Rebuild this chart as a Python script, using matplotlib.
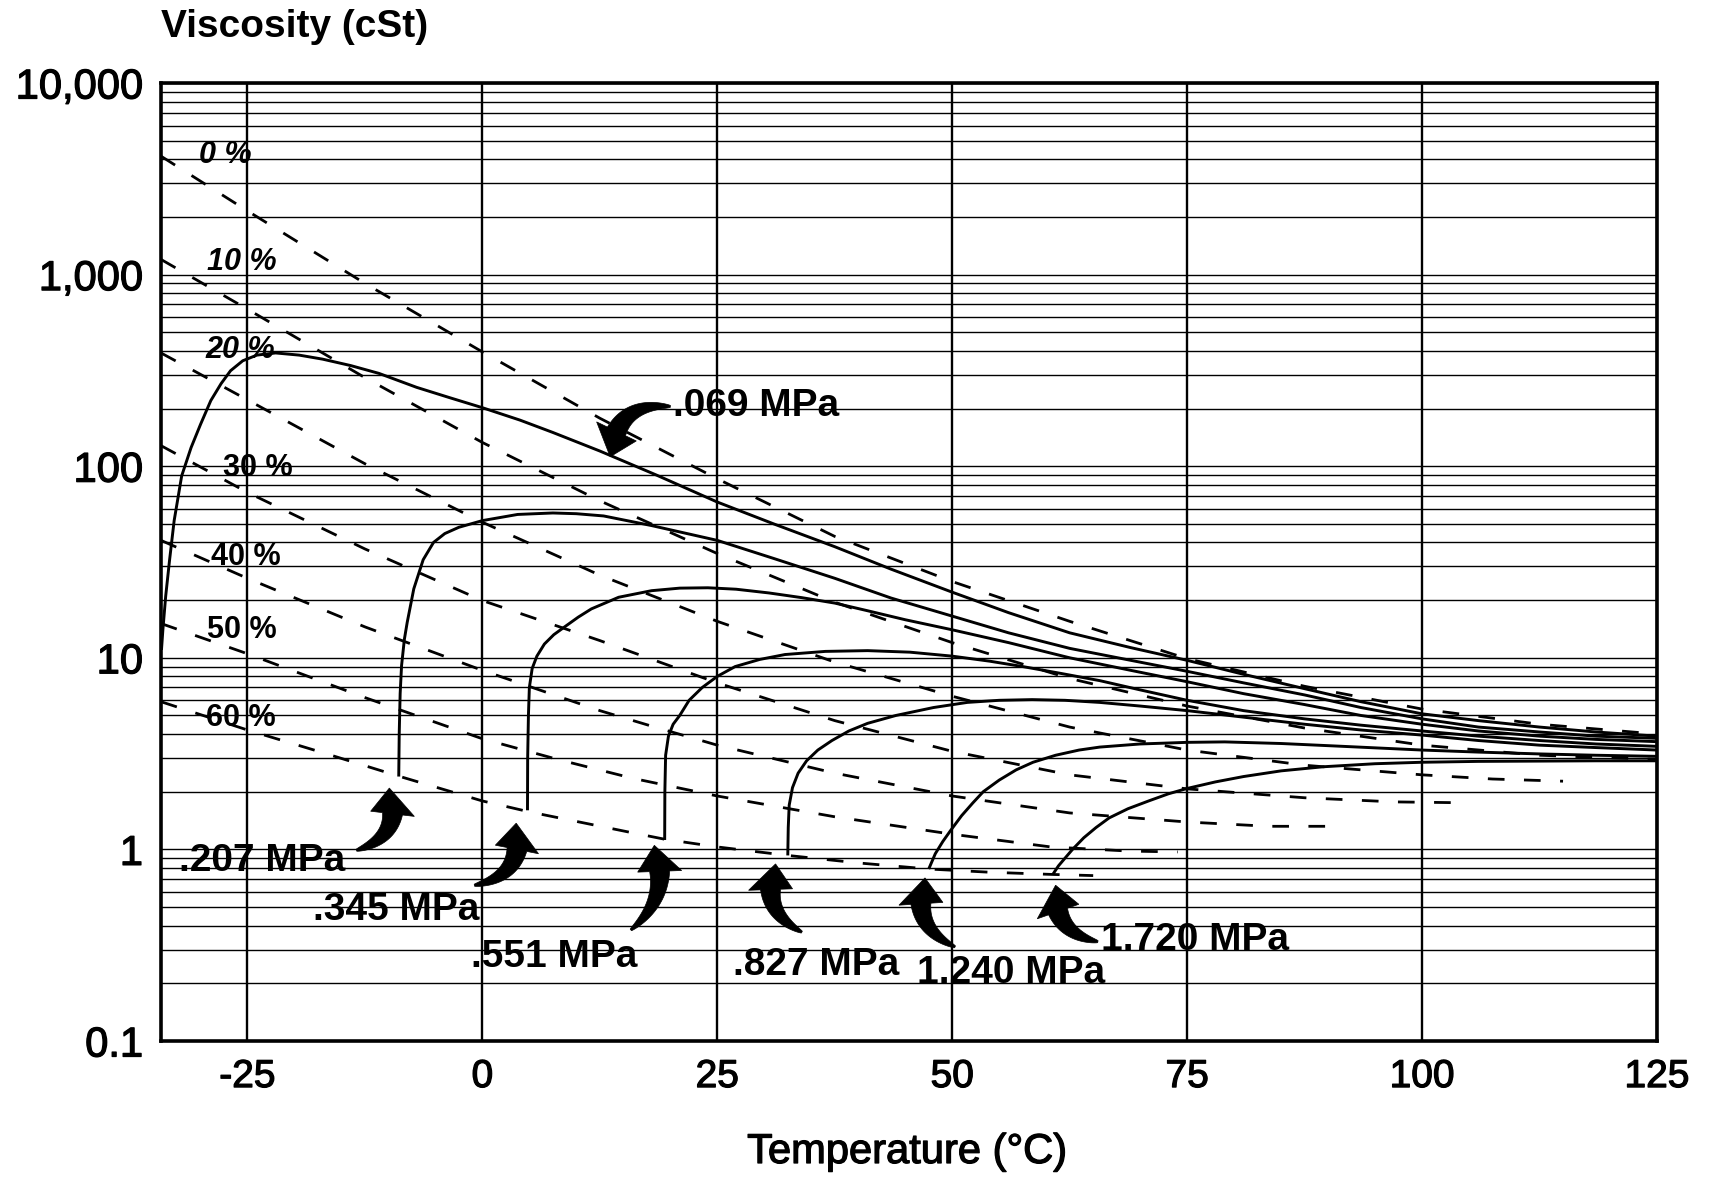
import numpy as np
import matplotlib.pyplot as plt
import matplotlib.patheffects as pe
from matplotlib.patches import Polygon
from matplotlib.transforms import IdentityTransform
from matplotlib.ticker import LogLocator, FuncFormatter, NullFormatter

plt.rcParams['font.family'] = ['Liberation Sans', 'DejaVu Sans']
plt.rcParams['axes.unicode_minus'] = False

# constant-percentage lines (dashed), temperature in deg C, viscosity in cSt
p0_t = [-34.2, -25, -12.5, 0, 12.5, 25, 37.5, 50, 62.5, 75, 87.5, 100, 112.5, 125]
p0_v = [4150, 2150, 900, 395, 178, 86, 43, 25, 15.5, 9.9, 7.1, 5.4, 4.5, 4.0]
p10_t = [-34.2, -25, -12.5, 0, 12.5, 25, 37.5, 50, 62.5, 75, 87.5, 100, 112.5, 125]
p10_v = [1200, 660, 290, 133, 66, 35, 19.5, 12, 7.8, 5.6, 4.3, 3.5, 3.1, 2.95]
p20_t = [-34.2, -25, -12.5, 0, 12.5, 25, 37.5, 50, 62.5, 75, 87.5, 100, 107.5, 115]
p20_v = [390, 222, 103, 51, 27, 15.5, 9.5, 6.3, 4.35, 3.3, 2.75, 2.45, 2.33, 2.27]
p30_t = [-34.2, -25, -12.5, 0, 12.5, 25, 37.5, 50, 62.5, 75, 87.5, 97, 105]
p30_v = [128, 73, 37, 19.9, 12.3, 7.4, 4.7, 3.25, 2.45, 2.07, 1.86, 1.77, 1.75]
p40_t = [-34.2, -25, -12.5, 0, 12.5, 18, 25, 37.5, 50, 62.5, 75, 83.7, 90]
p40_v = [41, 26, 14.5, 8.6, 5.3, 4.4, 3.5, 2.5, 1.9, 1.55, 1.39, 1.32, 1.32]
p50_t = [-34.2, -25, -12.5, 0, 8, 16, 25, 37.5, 50, 60.5, 68.8, 74]
p50_v = [15.1, 10.5, 6.2, 3.78, 2.95, 2.35, 1.9, 1.48, 1.2, 1.03, 0.98, 0.97]
p60_t = [-34.2, -25, -17, -9, 0, 5, 10, 16, 19.4, 25, 32.5, 40, 47.5, 54, 60.7, 65]
p60_v = [5.9, 4.2, 3.2, 2.42, 1.79, 1.57, 1.4, 1.22, 1.13, 1.03, 0.93, 0.85, 0.79, 0.76, 0.74, 0.73]
pct_names = ['0 %', '10 %', '20 %', '30 %', '40 %', '50 %', '60 %']

# pressure curves (solid)
m069_t = [-34.15, -34.0, -33.7, -33.3, -32.8, -32.0, -31.0, -30.0, -28.9, -27.8, -26.8, -25.5,
          -24.0, -22.0, -19.5, -17.0, -14.0, -11.0, -7.0, -3.5, 0, 4, 7.5, 12.5, 18.5, 25, 31,
          37.5, 43.5, 50, 56, 62.5, 69, 75, 81, 87.5, 93.5, 100, 106, 112.5, 118.5, 125]
m069_v = [11, 14, 21, 32, 52, 89, 125, 165, 220, 270, 315, 355,
          380, 390, 380, 362, 335, 305, 258, 228, 202, 174, 150, 120, 90, 65, 50,
          38, 29, 22, 17.2, 13.5, 11.3, 9.7, 8.2, 6.9, 5.9, 5.1, 4.7, 4.35, 4.1, 3.9]
m207_t = [-8.9, -8.85, -8.75, -8.6, -8.3, -8.0, -7.3, -6.3, -5.2, -4.0, -2.5, 0, 3.75, 7.5,
          10, 12.9, 18, 25, 31, 37.5, 43.5, 50, 56, 62.5, 69, 75, 81, 87.5, 93.5, 100, 106,
          112.5, 118.5, 125]
m207_v = [2.4, 4.0, 6.5, 9.1, 12.5, 15.3, 22.9, 32.5, 40, 44.5, 48, 52, 56, 57,
          56.5, 55, 49, 41, 33, 26, 20.5, 16.5, 13.5, 11.2, 9.7, 8.5, 7.4, 6.4, 5.5, 4.8, 4.35,
          4.1, 3.9, 3.8]
m345_t = [4.8, 4.82, 4.9, 5.0, 5.3, 5.8, 6.6, 7.6, 8.75, 10.2, 11.6, 14.5, 18, 21, 24, 27,
          30.5, 34, 37.5, 41, 45, 50, 56, 62.5, 69, 75, 81, 87.5, 93.5, 100, 106, 112.5,
          118.5, 125]
m345_v = [1.6, 3.0, 5.0, 7.0, 8.8, 10.2, 11.8, 13.2, 14.5, 16.3, 18, 20.7, 22.4, 23.1, 23.2,
          22.8, 21.8, 20.6, 19.3, 17.6, 15.8, 14, 12, 10, 8.6, 7.5, 6.5, 5.7, 5.0, 4.5, 4.15,
          3.9, 3.75, 3.65]
m551_t = [19.4, 19.42, 19.5, 19.8, 20.3, 21, 22, 23.4, 25, 26.9, 29.5, 32.2, 36.5, 41, 45.5,
          50, 54, 57.5, 61.5, 65.7, 70, 75, 81, 87.5, 93.5, 100, 106, 112.5, 118.5, 125]
m551_v = [1.12, 2.0, 3.1, 3.9, 4.5, 5.0, 6.0, 7.0, 8.0, 9.0, 9.8, 10.4, 10.8, 10.9, 10.7,
          10.2, 9.6, 9.0, 8.3, 7.6, 6.8, 6.0, 5.3, 4.8, 4.45, 4.15, 3.9, 3.7, 3.55, 3.45]
m827_t = [32.5, 32.55, 32.65, 33.0, 33.6, 34.5, 35.7, 37.2, 39, 41, 44, 48, 51.6, 55, 58.5,
          62, 65.7, 70, 75, 81, 87.5, 93.5, 100, 106, 112.5, 118.5, 125]
m827_v = [0.93, 1.3, 1.7, 2.1, 2.5, 2.9, 3.3, 3.7, 4.15, 4.55, 5.0, 5.5, 5.85, 6.0, 6.05,
          6.0, 5.85, 5.6, 5.3, 4.9, 4.5, 4.2, 3.95, 3.7, 3.5, 3.4, 3.3]
m1240_t = [47.5, 48.2, 49.0, 49.8, 51, 52.2, 53.3, 55, 56.8, 58.6, 61, 63.5, 65.7, 70, 75,
           79, 85, 91.6, 100, 106, 112.5, 118.5, 125]
m1240_v = [0.79, 0.95, 1.1, 1.25, 1.5, 1.75, 2.0, 2.3, 2.6, 2.85, 3.1, 3.3, 3.42, 3.55, 3.62,
           3.64, 3.57, 3.45, 3.3, 3.22, 3.15, 3.1, 3.06]
m1720_t = [60.7, 61.3, 62, 62.8, 64, 65.3, 66.7, 68.7, 70.9, 73, 75, 78, 81, 85, 89.5, 95,
           100, 106, 112.5, 118.5, 125]
m1720_v = [0.74, 0.82, 0.9, 1.0, 1.15, 1.3, 1.46, 1.63, 1.79, 1.95, 2.08, 2.25, 2.4, 2.57,
           2.7, 2.8, 2.85, 2.88, 2.89, 2.9, 2.9]
mpa_names = ['.069 MPa', '.207 MPa', '.345 MPa', '.551 MPa', '.827 MPa', '1.240 MPa', '1.720 MPa']

pct_lines = [(p0_t, p0_v), (p10_t, p10_v), (p20_t, p20_v), (p30_t, p30_v),
             (p40_t, p40_v), (p50_t, p50_v), (p60_t, p60_v)]
mpa_lines = [(m069_t, m069_v), (m207_t, m207_v), (m345_t, m345_v), (m551_t, m551_v),
             (m827_t, m827_v), (m1240_t, m1240_v), (m1720_t, m1720_v)]

# a thin stroke round the text makes regular glyphs look like a medium weight
medium = [pe.withStroke(linewidth=0.9, foreground='black')]


def comet_arrow(ax, tail, tip, rad, head_w=44, head_l=26, body_w=20, tail_w=2):
    # curved black arrow, thin at the tail and thick near the head
    p0 = ax.transData.transform(tail)
    p2 = ax.transData.transform(tip)
    d = p2 - p0
    p1 = (p0 + p2) / 2 + rad * np.array([d[1], -d[0]])
    s = np.linspace(0, 1, 120)[:, None]
    pts = (1 - s) ** 2 * p0 + 2 * (1 - s) * s * p1 + s ** 2 * p2
    arc = np.concatenate([[0], np.cumsum(np.hypot(*np.diff(pts, axis=0).T))])
    keep = arc <= arc[-1] - head_l
    body = pts[keep]
    tang = np.gradient(body, axis=0)
    tang /= np.hypot(tang[:, 0], tang[:, 1])[:, None]
    norm = np.column_stack([-tang[:, 1], tang[:, 0]])
    frac = arc[keep] / arc[keep][-1]
    w = (tail_w + (body_w - tail_w) * frac ** 0.8)[:, None] / 2
    left = body + norm * w
    right = body - norm * w
    base, n_end = body[-1], norm[-1]
    head = np.array([base + n_end * head_w / 2, p2, base - n_end * head_w / 2])
    poly = np.vstack([left, head, right[::-1]])
    ax.add_patch(Polygon(poly, closed=True, transform=IdentityTransform(),
                         facecolor='black', edgecolor='black', lw=0.5, zorder=5))


fig = plt.figure(figsize=(17.09, 11.78), dpi=100)
ax = fig.add_axes([161 / 1709, 137 / 1178, 1496 / 1709, 958 / 1178])
ax.set_yscale('log')
ax.set_xlim(-34.2, 125)
ax.set_ylim(0.1, 10000)
ax.set_xticks([-25, 0, 25, 50, 75, 100, 125])
ax.yaxis.set_major_locator(LogLocator(base=10, numticks=12))
ax.yaxis.set_minor_locator(LogLocator(base=10, subs=range(2, 10), numticks=12))
ax.yaxis.set_minor_formatter(NullFormatter())
ax.yaxis.set_major_formatter(FuncFormatter(lambda v, p: f'{v:,.0f}' if v >= 1 else f'{v:g}'))
ax.tick_params(which='both', length=0)
ax.tick_params(axis='x', labelsize=28, pad=13)
ax.tick_params(axis='y', labelsize=30, pad=13)
ax.grid(True, axis='y', which='both', color='black', lw=1.0)
ax.grid(True, axis='x', which='major', color='black', lw=1.7)
for sp in ax.spines.values():
    sp.set_linewidth(2.6)

for t, v in pct_lines:
    ax.plot(t, v, color='black', lw=2.0, linestyle=(0, (6, 7)), dash_capstyle='butt', zorder=3)
for t, v in mpa_lines:
    ax.plot(t, v, color='black', lw=2.1, solid_capstyle='butt', zorder=3)

# percentage labels
pct_pos = [(-27.4, 4200), (-25.6, 1160), (-25.8, 404), (-23.9, 98), (-25.2, 33.6), (-25.6, 14), (-25.7, 4.85)]
for i, (name, (x, y)) in enumerate(zip(pct_names, pct_pos)):
    ax.text(x, y, name, fontsize=22, fontweight='bold', style='italic' if i < 3 else 'normal',
            ha='center', va='center', zorder=6)

# pressure labels and arrows
mpa_pos = [(29.1, 205), (-23.4, 0.87), (-9.2, 0.48), (7.6, 0.275), (35.5, 0.25), (56.3, 0.226), (75.8, 0.337)]
for name, (x, y) in zip(mpa_names, mpa_pos):
    ax.text(x, y, name, fontsize=28, fontweight='bold', ha='center', va='center', zorder=6)

arrows = [((20.0, 205), (13.6, 112), 0.5),
          ((-13.4, 0.99), (-9.9, 2.09), 0.5),
          ((-0.85, 0.65), (3.6, 1.37), 0.5),
          ((15.8, 0.38), (18.3, 1.05), 0.35),
          ((34.0, 0.37), (31.2, 0.84), -0.45),
          ((50.3, 0.31), (47.1, 0.71), -0.45),
          ((65.5, 0.33), (61.0, 0.65), -0.45)]
for tail, tip, rad in arrows:
    comet_arrow(ax, tail, tip, rad)

for lab in ax.get_xticklabels() + ax.get_yticklabels():
    lab.set_path_effects(medium)

fig.text(161 / 1709, 1 - 27 / 1178, 'Viscosity (cSt)', fontsize=28, fontweight='bold',
         ha='left', va='center')
fig.text(907 / 1709, 1 - 1152 / 1178, 'Temperature (°C)', fontsize=30, ha='center', va='center',
         path_effects=medium)

fig.savefig('out.png', dpi=100)
